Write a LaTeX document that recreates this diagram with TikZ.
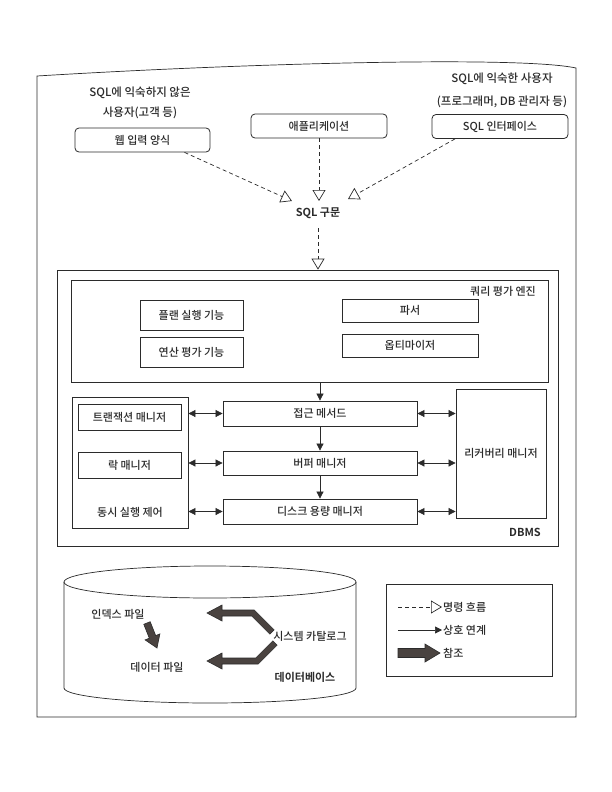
\documentclass[tikz,border=0pt]{standalone}
\usepackage{fontspec}
\setmainfont{Noto Sans CJK KR}[UprightFont={* Medium}, BoldFont={* Bold}]
\usetikzlibrary{arrows.meta}
\definecolor{ink}{HTML}{2B2B2B}
\definecolor{fat}{HTML}{4A4340}
\tikzset{
  every node/.style={font=\fontsize{11}{13}\selectfont, text=ink},
  rbox/.style={draw=ink, line width=0.8pt, rounded corners=4pt, minimum height=24pt, inner sep=0pt},
  sbox/.style={draw=ink, line width=0.8pt, inner sep=0pt},
  flow/.style={draw=ink, line width=0.7pt, dash pattern=on 4pt off 3pt, -{Triangle[open, length=11pt, width=13pt, line width=0.7pt]}},
  link/.style={draw=ink, line width=0.7pt, -{Triangle[length=7pt,width=7pt]}},
  dlink/.style={draw=ink, line width=0.7pt, {Triangle[length=7pt,width=7pt]}-{Triangle[length=7pt,width=7pt]}},
  fatarrow/.style={draw=ink, line width=0.6pt, fill=fat, line join=miter},
  boldlabel/.style={font=\fontsize{11}{13}\selectfont\bfseries},
}
\begin{document}
\begin{tikzpicture}[x=1pt,y=-1pt]
\useasboundingbox (0,0) rectangle (612,792);
\fill[white] (0,0) rectangle (612,792);
% outer frame (page edge, slightly warped at the top as in the photo)
\draw[ink, line width=0.7pt] (37,717) -- (37,76)
  .. controls (250,63) and (520,56) .. (576,68) -- (576,717) -- cycle;

% users
\node[align=center, font=\fontsize{11.5}{20}\selectfont] (novice) at (140,103) {SQL에 익숙하지 않은\\사용자(고객 등)};
\node[align=center, font=\fontsize{11.5}{23}\selectfont] (expert) at (502,90) {SQL에 익숙한 사용자\\(프로그래머, DB 관리자 등)};

\node[rbox, minimum width=135pt] (web) at (142.5,140) {웹 입력 양식};
\node[rbox, minimum width=136pt] (app) at (319,126) {애플리케이션};
\node[rbox, minimum width=136pt] (sqli) at (500,126.5) {SQL 인터페이스};

\node[boldlabel] (stmt) at (318,213) {SQL 구문};
\coordinate (tipL) at (292,201);
\coordinate (tipR) at (348,199);
\draw[flow] ([xshift=42pt]web.south) -- (tipL);
\draw[flow] (app.south) -- (app.south |- tipL);
\draw[flow] ([xshift=-45pt]sqli.south) -- (tipR);

% DBMS
\node[sbox, minimum width=501pt, minimum height=276pt] (dbms) at (307.5,408) {};
\node[boldlabel] (dbmslabel) at (525,532) {DBMS};
\draw[flow] ([yshift=-6pt]stmt.south) -- (stmt.south |- dbms.north);

% query engine
\node[sbox, minimum width=477pt, minimum height=102pt] (engine) at (309.5,331) {};
\node (englabel) at (503,291) {쿼리 평가 엔진};
\node[sbox, minimum width=103pt, minimum height=30pt] (plan) at (191.5,315) {플랜 실행 기능};
\node[sbox, minimum width=103pt, minimum height=30pt] (calc) at (191.5,352) {연산 평가 기능};
\node[sbox, minimum width=136pt, minimum height=23pt] (parser) at (410,310.5) {파서};
\node[sbox, minimum width=136pt, minimum height=23pt] (opt) at (410,345.5) {옵티마이저};

% middle stack
\node[sbox, minimum width=194pt, minimum height=25pt] (acc) at (320,413.5) {접근 메서드};
\node[sbox, minimum width=194pt, minimum height=24pt] (buf) at (320,463) {버퍼 매니저};
\node[sbox, minimum width=194pt, minimum height=25pt] (disk) at (320,511.5) {디스크 용량 매니저};
\draw[link] (acc.north |- engine.south) -- (acc.north);
\draw[link] (acc.south) -- (buf.north);
\draw[link] (buf.south) -- (disk.north);

% concurrency control
\node[sbox, minimum width=116pt, minimum height=131pt] (ctl) at (130,462.5) {};
\node[sbox, minimum width=103pt, minimum height=26pt] (txm) at (129.5,417) {트랜잭션 매니저};
\node[sbox, minimum width=103pt, minimum height=26pt] (lock) at (129.5,465) {락 매니저};
\node (ctllabel) at (130,512) {동시 실행 제어};

% recovery
\node[sbox, minimum width=90pt, minimum height=129pt] (rec) at (501,453.5) {리커버리 매니저};

\draw[dlink] (ctl.east |- acc.west) -- (acc.west);
\draw[dlink] (ctl.east |- buf.west) -- (buf.west);
\draw[dlink] (ctl.east |- disk.west) -- (disk.west);
\draw[dlink] (acc.east) -- (rec.west |- acc.east);
\draw[dlink] (buf.east) -- (rec.west |- buf.east);
\draw[dlink] (disk.east) -- (rec.west |- disk.east);

% database cylinder
\draw[ink, line width=0.7pt] (210pt,-582pt) ellipse [x radius=146pt, y radius=16pt];
\draw[ink, line width=0.7pt] (64,582) -- (64,688)
  .. controls (64,696.3) and (129.4,703) .. (210,703)
  .. controls (290.6,703) and (356,696.3) .. (356,688) -- (356,582);
\node (idx) at (118,614) {인덱스 파일};
\node (dat) at (157,667) {데이터 파일};
\node (cat) at (310,636) {시스템 카탈로그};
\node[boldlabel] (dbname) at (305,677) {데이터베이스};

\draw[fatarrow] (157,648) -- (159.9,633.9) -- (155.7,635.6) -- (150.2,621.7) -- (143.8,624.3) -- (149.3,638.2) -- (145.1,639.9) -- cycle;
\draw[fatarrow] (207,613) -- (222,605) -- (222,610) -- (254.2,610) -- (274.1,629.9) -- (269.9,634.1) -- (251.8,616) -- (222,616) -- (222,621) -- cycle;
\draw[fatarrow] (207,661) -- (222,653) -- (222,658) -- (255.8,658) -- (272.9,640.9) -- (277.1,645.1) -- (258.2,664) -- (222,664) -- (222,669) -- cycle;

% legend
\node[sbox, minimum width=166pt, minimum height=92pt] (legend) at (469,630) {};
\node[anchor=west, inner sep=1pt] (lg1) at (442,607) {명령 흐름};
\node[anchor=west, inner sep=1pt] (lg2) at (442,630) {상호 연계};
\node[anchor=west, inner sep=1pt] (lg3) at (442,653) {참조};
\coordinate (lg1s) at (398,607);
\coordinate (lg2s) at (398,630);
\draw[flow] (lg1s) -- (lg1.west);
\draw[link] (lg2s) -- (lg2.west);
\draw[fatarrow] (398,648.5) -- (425,648.5) -- (425,644) -- (440,653) -- (425,662) -- (425,657.5) -- (398,657.5) -- cycle;
\end{tikzpicture}
\end{document}
